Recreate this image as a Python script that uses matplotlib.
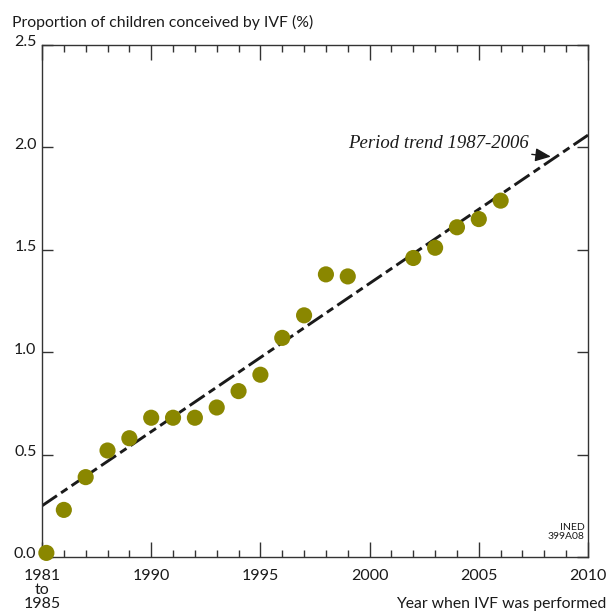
import matplotlib
matplotlib.use("Agg")
import matplotlib.pyplot as plt
from matplotlib.ticker import MultipleLocator
from matplotlib.transforms import ScaledTranslation

years = [1985.2, 1986, 1987, 1988, 1989, 1990, 1991, 1992, 1993, 1994, 1995,
         1996, 1997, 1998, 1999, 2002, 2003, 2004, 2005, 2006]
ivf_pct = [0.02, 0.23, 0.39, 0.52, 0.58, 0.68, 0.68, 0.68, 0.73, 0.81, 0.89,
           1.07, 1.18, 1.38, 1.37, 1.46, 1.51, 1.61, 1.65, 1.74]
trend_years = [1985, 2010]
trend_vals = [0.25, 2.06]
x_ticks = [1985, 1990, 1995, 2000, 2005, 2010]
x_ticklabels = ["1981\nto\n1985", "1990", "1995", "2000", "2005", "2010"]
y_ticks = [0.0, 0.5, 1.0, 1.5, 2.0, 2.5]

plt.rcParams['font.family'] = ['Lato', 'DejaVu Sans']
plt.rcParams['lines.scale_dashes'] = False

fig = plt.figure(figsize=(6.09, 6.12), dpi=100)
ax = fig.add_axes([42/609, 55/612, (588-42)/609, (557-45)/612])

axc = '#333333'
txtc = '#1a1a1a'
ax.plot(trend_years, trend_vals, color=txtc, lw=2.1,
        dashes=(13, 3.6, 5.5, 3.6), solid_capstyle='butt', zorder=2)
ax.scatter(years, ivf_pct, s=135, color='#8a8700', edgecolors='none',
           zorder=3, clip_on=False)

ax.set_xlim(1985, 2010)
ax.set_ylim(0, 2.5)
ax.set_xticks(x_ticks)
ax.set_xticklabels(x_ticklabels, fontsize=11.5, linespacing=1.0, color=txtc)
ax.set_yticks(y_ticks)
ax.set_yticklabels([f"{v:.1f}" for v in y_ticks], fontsize=11.5, color=txtc)
ax.xaxis.set_minor_locator(MultipleLocator(1))
ax.tick_params(axis='x', which='major', direction='in', length=11, width=1,
               color=axc, top=True, pad=9)
ax.tick_params(axis='x', which='minor', direction='in', length=5, width=1,
               color=axc, top=True)
ax.tick_params(axis='y', which='major', direction='in', length=8, width=1,
               color=axc, right=True, pad=4)
shift = ScaledTranslation(0, 4/100, fig.dpi_scale_trans)
for lab in ax.get_yticklabels():
    lab.set_transform(lab.get_transform() + shift)
for s in ax.spines.values():
    s.set_color(axc)
    s.set_linewidth(1.0)

fig.text(12/609, 1-22/612, "Proportion of children conceived by IVF (%)",
         fontsize=11.3, ha='left', va='center', color=txtc)
fig.text(606/609, 1-604/612, "Year when IVF was performed",
         fontsize=11.3, ha='right', va='center', color=txtc)
ax.text(2009.85, 0.08, "INED\n399A08", fontsize=7.5, ha='right', va='bottom',
        linespacing=0.95, color=txtc)

ax.annotate("Period trend 1987-2006", xy=(2008.3, 1.955), xytext=(2007.3, 2.02),
            fontsize=13.5, style='italic', family=['Liberation Serif', 'DejaVu Serif'],
            ha='right', va='center', color=txtc,
            arrowprops=dict(arrowstyle='-|>,head_length=0.7,head_width=0.3',
                            color=txtc, lw=1.0, shrinkA=0, shrinkB=0))

fig.savefig("out.png", dpi=100)
